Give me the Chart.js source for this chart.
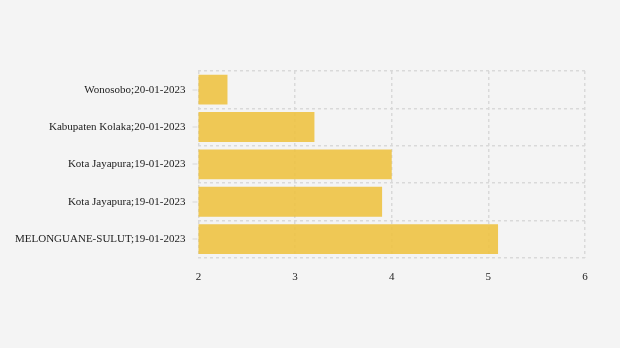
<!DOCTYPE html>
<html>
<head>
<meta charset="utf-8">
<script src="https://cdn.jsdelivr.net/npm/chart.js@4/dist/chart.umd.min.js"></script>
<style>
html,body{margin:0;padding:0;background:#f4f4f4;}
#wrap{width:620px;height:348px;}
</style>
</head>
<body>
<div id="wrap"><canvas id="c" width="620" height="348"></canvas></div>
<script>
const categories = [
  "Wonosobo;20-01-2023",
  "Kabupaten Kolaka;20-01-2023",
  "Kota Jayapura;19-01-2023",
  "Kota Jayapura;19-01-2023",
  "MELONGUANE-SULUT;19-01-2023"
];
const values = [2.3, 3.2, 4.0, 3.9, 5.1];
const xTicks = [2, 3, 4, 5, 6];

const labelTicks = {id:'labelTicks', afterDatasetsDraw(chart){
  const y = chart.scales.y, ctx = chart.ctx, left = chart.chartArea.left;
  ctx.save();
  ctx.strokeStyle = '#e2e2e2'; ctx.lineWidth = 1.5;
  categories.forEach((c,i)=>{
    const py = Math.round(y.getPixelForValue(i));
    ctx.beginPath(); ctx.moveTo(left-6, py); ctx.lineTo(left-1, py); ctx.stroke();
  });
  ctx.restore();
}};

new Chart(document.getElementById('c'), {
  type:'bar',
  data:{labels:categories, datasets:[{data:values, backgroundColor:'rgba(238,193,63,0.88)', borderWidth:0, barPercentage:0.8, categoryPercentage:1}]},
  options:{
    indexAxis:'y', responsive:false, animation:false,
    layout:{padding:{top:71, bottom:51, right:35, left:2}},
    plugins:{legend:{display:false}, tooltip:{enabled:false}},
    scales:{
      x:{min:xTicks[0], max:xTicks[xTicks.length-1],
         afterBuildTicks:(s)=>{s.ticks = xTicks.map(v=>({value:v}));},
         grid:{color:'#d9d9d9', lineWidth:1.5, drawTicks:false},
         border:{display:false, dash:[3,3]},
         ticks:{padding:13, color:'#222', font:{family:'Liberation Serif', size:11}}},
      y:{grid:{offset:true, color:'#d9d9d9', lineWidth:1.5, drawTicks:false},
         border:{display:false, dash:[3,3]},
         ticks:{padding:13, color:'#222', font:{family:'Liberation Serif', size:11}}}
    }
  },
  plugins:[labelTicks]
});
</script>
</body>
</html>
